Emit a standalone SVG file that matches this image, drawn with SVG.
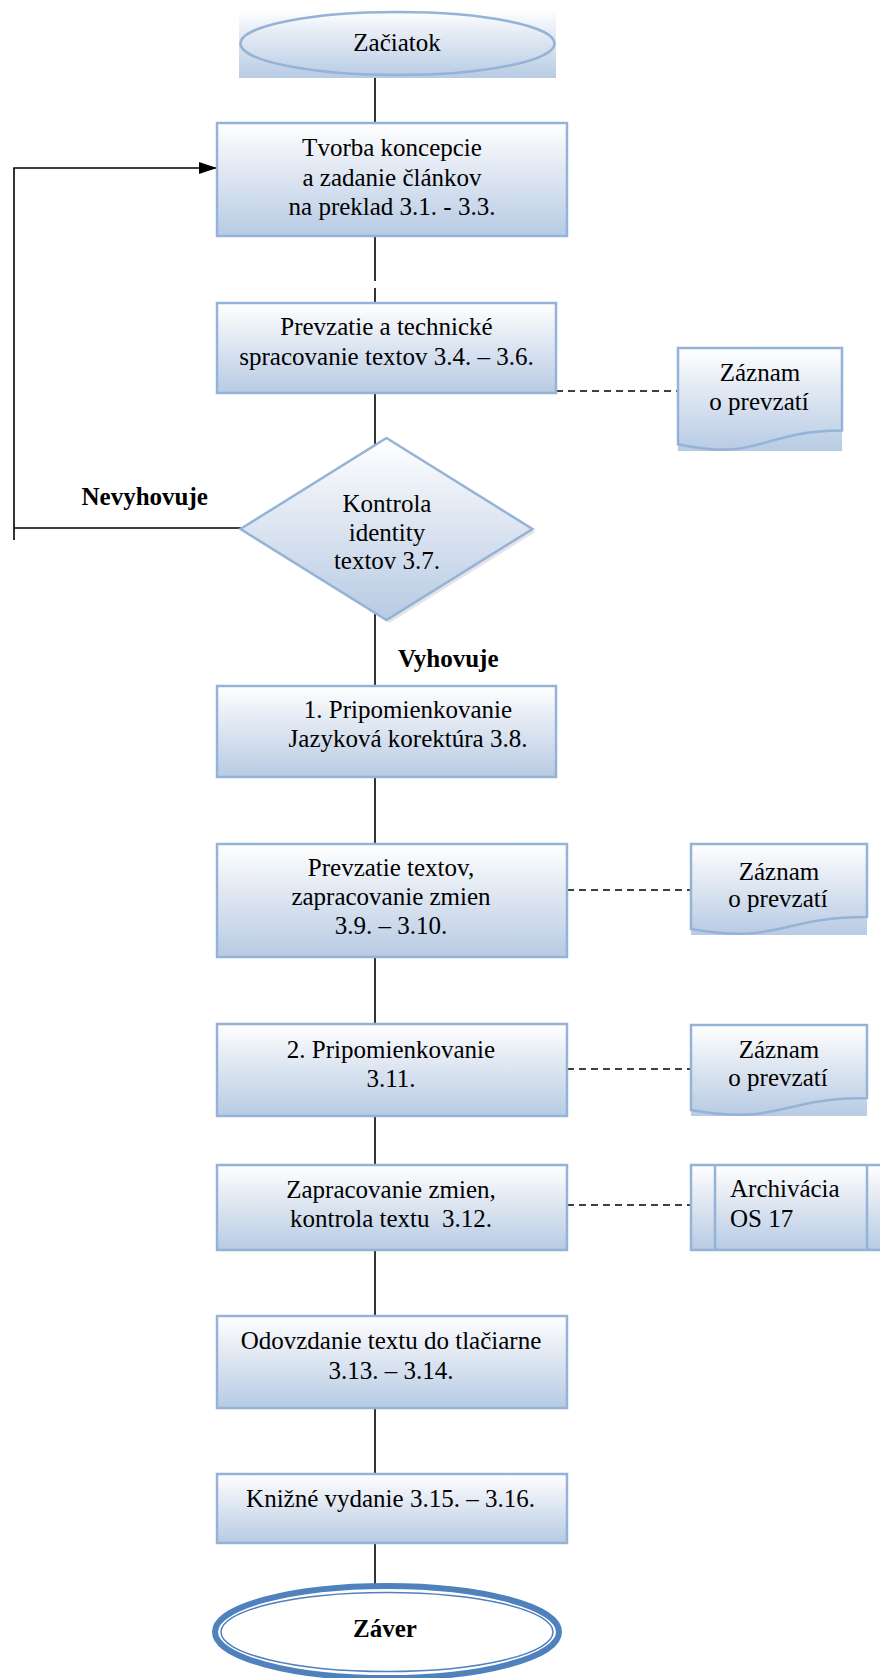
<svg xmlns="http://www.w3.org/2000/svg" width="880" height="1678" viewBox="0 0 880 1678">
  <defs>
    <linearGradient id="fillGrad" x1="0" y1="0" x2="0" y2="1">
      <stop offset="0" stop-color="#ffffff"/>
      <stop offset="0.4" stop-color="#e2e9f3"/>
      <stop offset="1" stop-color="#b7cbe4"/>
    </linearGradient>
    <marker id="arrow" markerWidth="18" markerHeight="12" refX="18" refY="6" orient="auto" markerUnits="userSpaceOnUse">
      <path d="M0,0 L18,6 L0,12 Z" fill="#000"/>
    </marker>
  </defs>
  <style>
    .box{fill:url(#fillGrad);stroke:#95b3d7;stroke-width:2.5}
    .bg{fill:url(#fillGrad)}
    .outline{fill:none;stroke:#95b3d7;stroke-width:2.5}
    .line{stroke:#000;stroke-width:1.6;fill:none}
    .dash{stroke:#000;stroke-width:1.6;stroke-dasharray:7 5;fill:none}
    .shadow{fill:#000;opacity:0.1}
    .t{font-family:'Liberation Serif','Times New Roman',Times,serif;font-size:25px;fill:#000}
    .c{text-anchor:middle}
    .b{font-weight:bold}
  </style>

  <!-- solid and dashed connectors -->
  <g id="connectors">
    <line class="line" x1="375" y1="78" x2="375" y2="123"/>
    <line class="line" x1="375" y1="236" x2="375" y2="281"/>
    <line class="line" x1="375" y1="288" x2="375" y2="303"/>
    <line class="line" x1="375" y1="393" x2="375" y2="446"/>
    <line class="line" x1="375" y1="614" x2="375" y2="686"/>
    <line class="line" x1="375" y1="777" x2="375" y2="844"/>
    <line class="line" x1="375" y1="957" x2="375" y2="1024"/>
    <line class="line" x1="375" y1="1116" x2="375" y2="1165"/>
    <line class="line" x1="375" y1="1250" x2="375" y2="1316"/>
    <line class="line" x1="375" y1="1408" x2="375" y2="1474"/>
    <line class="line" x1="375" y1="1543" x2="375" y2="1590"/>
    <!-- feedback loop from the decision back to the first step -->
    <line class="line" x1="241" y1="528" x2="14" y2="528"/>
    <line class="line" x1="14" y1="540" x2="14" y2="168"/>
    <line class="line" x1="13.2" y1="168" x2="217" y2="168" marker-end="url(#arrow)"/>
    <!-- links to records -->
    <line class="dash" x1="556" y1="391" x2="678" y2="391"/>
    <line class="dash" x1="567" y1="890" x2="691" y2="890"/>
    <line class="dash" x1="567" y1="1069" x2="691" y2="1069"/>
    <line class="dash" x1="567" y1="1205" x2="691" y2="1205"/>
  </g>

  <g id="start">
    <rect class="bg" x="239" y="9" width="317" height="69"/>
    <ellipse class="outline" cx="397.5" cy="43.5" rx="157" ry="31.5"/>
    <text class="t c" x="397" y="51">Začiatok</text>
  </g>

  <g id="step-koncepcia">
    <rect class="box" x="217" y="123" width="350" height="113"/>
    <text class="t c" x="392" y="156">Tvorba koncepcie</text>
    <text class="t c" x="392" y="185.5">a zadanie článkov</text>
    <text class="t c" x="392" y="215">na preklad 3.1. - 3.3.</text>
  </g>

  <g id="step-prevzatie">
    <rect class="box" x="217" y="303" width="339" height="90"/>
    <text class="t c" x="386.5" y="335">Prevzatie a technické</text>
    <text class="t c" x="386.5" y="365">spracovanie textov 3.4. – 3.6.</text>
  </g>

  <g id="record-1">
    <rect class="bg" x="678" y="348" width="164" height="103"/>
    <path class="outline" d="M678,348 H842 V430.6 C760,430.6 760,462 678,444.2 Z"/>
    <text class="t c" x="760" y="381">Záznam</text>
    <text class="t c" x="759" y="410">o prevzatí</text>
  </g>

  <g id="decision-kontrola">
    <polygon class="shadow" points="389.5,441 535.5,532 389.5,623 243.5,532"/>
    <polygon class="box" points="386.5,438 532.5,529 386.5,620 240.5,529"/>
    <text class="t c" x="387" y="512">Kontrola</text>
    <text class="t c" x="387" y="541">identity</text>
    <text class="t c" x="387" y="569">textov 3.7.</text>
  </g>

  <g id="label-nevyhovuje">
    <text class="t b" x="81.5" y="505">Nevyhovuje</text>
  </g>

  <g id="label-vyhovuje">
    <text class="t b" x="398" y="667">Vyhovuje</text>
  </g>

  <g id="step-pripomienkovanie-1">
    <rect class="box" x="217" y="686" width="339" height="91"/>
    <text class="t c" x="408" y="718">1. Pripomienkovanie</text>
    <text class="t c" x="408" y="747">Jazyková korektúra 3.8.</text>
  </g>

  <g id="step-zapracovanie-1">
    <rect class="box" x="217" y="844" width="350" height="113"/>
    <text class="t c" x="391" y="876">Prevzatie textov,</text>
    <text class="t c" x="391" y="905">zapracovanie zmien</text>
    <text class="t c" x="391" y="934">3.9. – 3.10.</text>
  </g>

  <g id="record-2">
    <rect class="bg" x="691" y="844" width="176" height="91"/>
    <path class="outline" d="M691,844 H867 V917 C779,917 779,944.8 691,929 Z"/>
    <text class="t c" x="779" y="880">Záznam</text>
    <text class="t c" x="778" y="907">o prevzatí</text>
  </g>

  <g id="step-pripomienkovanie-2">
    <rect class="box" x="217" y="1024" width="350" height="92"/>
    <text class="t c" x="391" y="1058">2. Pripomienkovanie</text>
    <text class="t c" x="391" y="1087">3.11.</text>
  </g>

  <g id="record-3">
    <rect class="bg" x="691" y="1025" width="176" height="91"/>
    <path class="outline" d="M691,1025 H867 V1098 C779,1098 779,1125.8 691,1110 Z"/>
    <text class="t c" x="779" y="1058">Záznam</text>
    <text class="t c" x="778" y="1086">o prevzatí</text>
  </g>

  <g id="step-kontrola-textu">
    <rect class="box" x="217" y="1165" width="350" height="85"/>
    <text class="t c" x="391" y="1198">Zapracovanie zmien,</text>
    <text class="t c" x="391" y="1227" xml:space="preserve">kontrola textu  3.12.</text>
  </g>

  <g id="archive">
    <rect class="box" x="691" y="1165" width="200" height="85"/>
    <line class="outline" x1="715" y1="1165" x2="715" y2="1250"/>
    <line class="outline" x1="867" y1="1165" x2="867" y2="1250"/>
    <text class="t" x="730" y="1197">Archivácia</text>
    <text class="t" x="730" y="1227">OS 17</text>
  </g>

  <g id="step-tlaciaren">
    <rect class="box" x="217" y="1316" width="350" height="92"/>
    <text class="t c" x="391" y="1349">Odovzdanie textu do tlačiarne</text>
    <text class="t c" x="391" y="1379">3.13. – 3.14.</text>
  </g>

  <g id="step-vydanie">
    <rect class="box" x="217" y="1474" width="350" height="69"/>
    <text class="t c" x="390.5" y="1507">Knižné vydanie 3.15. – 3.16.</text>
  </g>

  <g id="end">
    <ellipse cx="387" cy="1632" rx="172" ry="46" fill="#ffffff" stroke="#4f81bd" stroke-width="6"/>
    <ellipse cx="387" cy="1632" rx="166" ry="39.5" fill="none" stroke="#4f81bd" stroke-width="1.5"/>
    <text class="t c b" x="385" y="1637">Záver</text>
  </g>
</svg>
